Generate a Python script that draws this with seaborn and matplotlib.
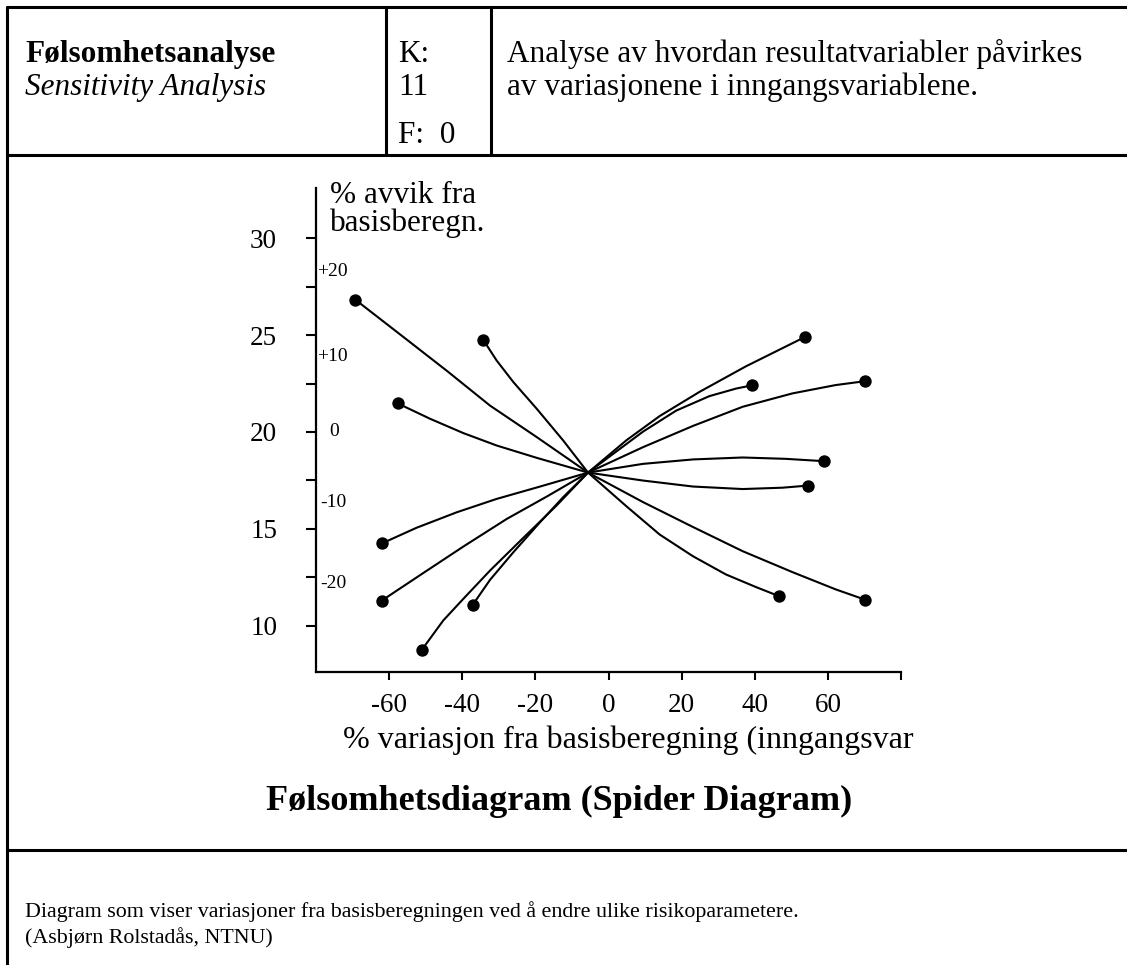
import numpy as np
import pandas as pd
import matplotlib
matplotlib.use("Agg")
import matplotlib.pyplot as plt
import seaborn as sns
from matplotlib.lines import Line2D

# base case point where all arms meet
center_x = -5.6
center_y = 17.9

# arms, centre -> end point
arm1_x = [center_x, -19.6, -32.4, -44.3, -56.0, -69.3]
arm1_y = [center_y, 19.73, 21.36, 23.17, 24.89, 26.84]
arm2_x = [center_x, -12.4, -19.6, -26.0, -30.6, -34.3]
arm2_y = [center_y, 19.56, 21.19, 22.57, 23.69, 24.77]
arm3_x = [center_x, -19.6, -30.6, -39.7, -48.8, -57.6]
arm3_y = [center_y, 18.66, 19.30, 19.94, 20.68, 21.47]
arm4_x = [center_x, -18.7, -30.6, -41.5, -52.5, -62.0]
arm4_y = [center_y, 17.18, 16.54, 15.85, 15.05, 14.24]
arm5_x = [center_x, -16.9, -27.8, -39.7, -50.6, -62.0]
arm5_y = [center_y, 16.66, 15.51, 14.08, 12.72, 11.29]
arm6_x = [center_x, -14.2, -23.3, -32.4, -39.7, -45.2, -51.0]
arm6_y = [center_y, 16.20, 14.53, 12.84, 11.38, 10.26, 8.76]
arm7_x = [center_x, -12.4, -18.7, -26.0, -32.4, -37.1]
arm7_y = [center_y, 16.63, 15.34, 13.79, 12.36, 11.08]
arm8_x = [center_x, 4.9, 14.0, 24.9, 37.6, 45.8, 53.7]
arm8_y = [center_y, 19.57, 20.82, 22.07, 23.39, 24.16, 24.90]
arm9_x = [center_x, 9.4, 18.5, 27.6, 34.9, 39.3]
arm9_y = [center_y, 20.01, 21.10, 21.85, 22.24, 22.41]
arm10_x = [center_x, 9.4, 23.1, 36.7, 50.3, 62.1, 70.1]
arm10_y = [center_y, 19.21, 20.31, 21.30, 21.99, 22.42, 22.62]
arm11_x = [center_x, 9.4, 23.1, 36.7, 48.5, 58.9]
arm11_y = [center_y, 18.35, 18.58, 18.68, 18.61, 18.49]
arm12_x = [center_x, 9.4, 23.1, 36.7, 47.6, 54.6]
arm12_y = [center_y, 17.49, 17.18, 17.05, 17.12, 17.23]
arm13_x = [center_x, 4.9, 14.0, 23.1, 32.1, 40.3, 46.6]
arm13_y = [center_y, 16.16, 14.70, 13.58, 12.64, 11.99, 11.52]
arm14_x = [center_x, 9.4, 23.1, 36.7, 50.3, 62.1, 70.1]
arm14_y = [center_y, 16.38, 15.09, 13.84, 12.76, 11.87, 11.34]

x_ticks = [-60, -40, -20, 0, 20, 40, 60, 80]
x_labels = ["-60", "-40", "-20", "0", "20", "40", "60", ""]
y_ticks = [10, 15, 20, 25, 30]
y_minor = [12.5, 17.5, 22.5, 27.5]
dev_labels = ["+20", "+10", "0", "-10", "-20"]
dev_y = [28.3, 23.9, 20.0, 16.36, 12.17]

sns.set_style("ticks")
plt.rcParams["font.family"] = ["Liberation Serif", "DejaVu Serif"]
plt.rcParams["text.color"] = "black"
plt.rcParams["axes.labelcolor"] = "black"
plt.rcParams["xtick.color"] = "black"
plt.rcParams["ytick.color"] = "black"

W, H = 1127, 965
fig = plt.figure(figsize=(W / 100, H / 100), dpi=100)


def fx(px):
    return px / W


def fy(py):
    return 1 - py / H


ax = fig.add_axes([fx(316), fy(672), 585 / W, 484 / H])

arms = [(arm1_x, arm1_y), (arm2_x, arm2_y), (arm3_x, arm3_y), (arm4_x, arm4_y),
        (arm5_x, arm5_y), (arm6_x, arm6_y), (arm7_x, arm7_y), (arm8_x, arm8_y),
        (arm9_x, arm9_y), (arm10_x, arm10_y), (arm11_x, arm11_y), (arm12_x, arm12_y),
        (arm13_x, arm13_y), (arm14_x, arm14_y)]
frames = [pd.DataFrame({"arm": i, "x": xs, "y": ys}) for i, (xs, ys) in enumerate(arms, 1)]
df = pd.concat(frames, ignore_index=True)
ends = df.groupby("arm").tail(1)

sns.lineplot(data=df, x="x", y="y", units="arm", estimator=None, sort=False,
             color="black", linewidth=1.5, ax=ax, legend=False)
sns.scatterplot(data=ends, x="x", y="y", color="black", s=80, linewidth=0,
                ax=ax, legend=False, zorder=3)

ax.set_xlim(-80, 80)
ax.set_ylim(7.6, 32.6)
sns.despine(ax=ax)
for s in ["left", "bottom"]:
    ax.spines[s].set_linewidth(1.6)
    ax.spines[s].set_color("black")

ax.set_xticks(x_ticks)
ax.set_xticklabels(x_labels)
ax.set_yticks(y_ticks)
ax.set_yticklabels([str(v) for v in y_ticks])
ax.set_yticks(y_minor, minor=True)
ax.tick_params(axis="x", direction="out", length=6, width=1.5, labelsize=19.5, pad=9, colors="black")
ax.tick_params(axis="y", which="both", direction="out", length=7, width=1.5, labelsize=19.5, pad=21, colors="black")

ax.set_ylabel("")
ax.set_xlabel("% variasjon fra basisberegning (inngangsvar", fontsize=23, ha="left", va="center", color="black")
ax.xaxis.set_label_coords(0.046, (672 - 740) / 484)

ax.text(0.024, (672 - 203) / 484, "% avvik fra", transform=ax.transAxes, fontsize=22.5, va="baseline")
ax.text(0.024, (672 - 231) / 484, "basisberegn.", transform=ax.transAxes, fontsize=22.5, va="baseline")

dev_x = [-79.6, -79.6, -76.3, -78.9, -78.9]
for lab, xv, yv in zip(dev_labels, dev_x, dev_y):
    ax.text(xv, yv, lab, fontsize=14, va="center", ha="left")

# table frame
lw = 2.2
for (x0, y0, x1, y1) in [(7, 7, 1127, 7), (7, 7, 7, 965), (7, 155, 1127, 155),
                         (386, 7, 386, 155), (491, 7, 491, 155), (7, 850, 1127, 850)]:
    fig.add_artist(Line2D([fx(x0), fx(x1)], [fy(y0), fy(y1)], color="black", lw=lw))

fig.text(fx(25), fy(62), "Følsomhetsanalyse", fontsize=22.5, fontweight="bold", va="baseline")
fig.text(fx(25), fy(95), "Sensitivity Analysis", fontsize=22.5, style="italic", va="baseline")
fig.text(fx(398), fy(62), "K:", fontsize=22.5, va="baseline")
fig.text(fx(398), fy(95), "11", fontsize=22.5, va="baseline")
fig.text(fx(398), fy(143), "F:  0", fontsize=22.5, va="baseline")
fig.text(fx(507), fy(62), "Analyse av hvordan resultatvariabler påvirkes", fontsize=22.5, va="baseline")
fig.text(fx(507), fy(95), "av variasjonene i inngangsvariablene.", fontsize=22.5, va="baseline")

fig.text(fx(559), fy(810), "Følsomhetsdiagram (Spider Diagram)", fontsize=26, fontweight="bold",
         ha="center", va="baseline")
fig.text(fx(25), fy(917), "Diagram som viser variasjoner fra basisberegningen ved å endre ulike risikoparametere.",
         fontsize=15.8, va="baseline")
fig.text(fx(25), fy(943), "(Asbjørn Rolstadås, NTNU)", fontsize=15.8, va="baseline")

fig.savefig("out.png", dpi=100)
